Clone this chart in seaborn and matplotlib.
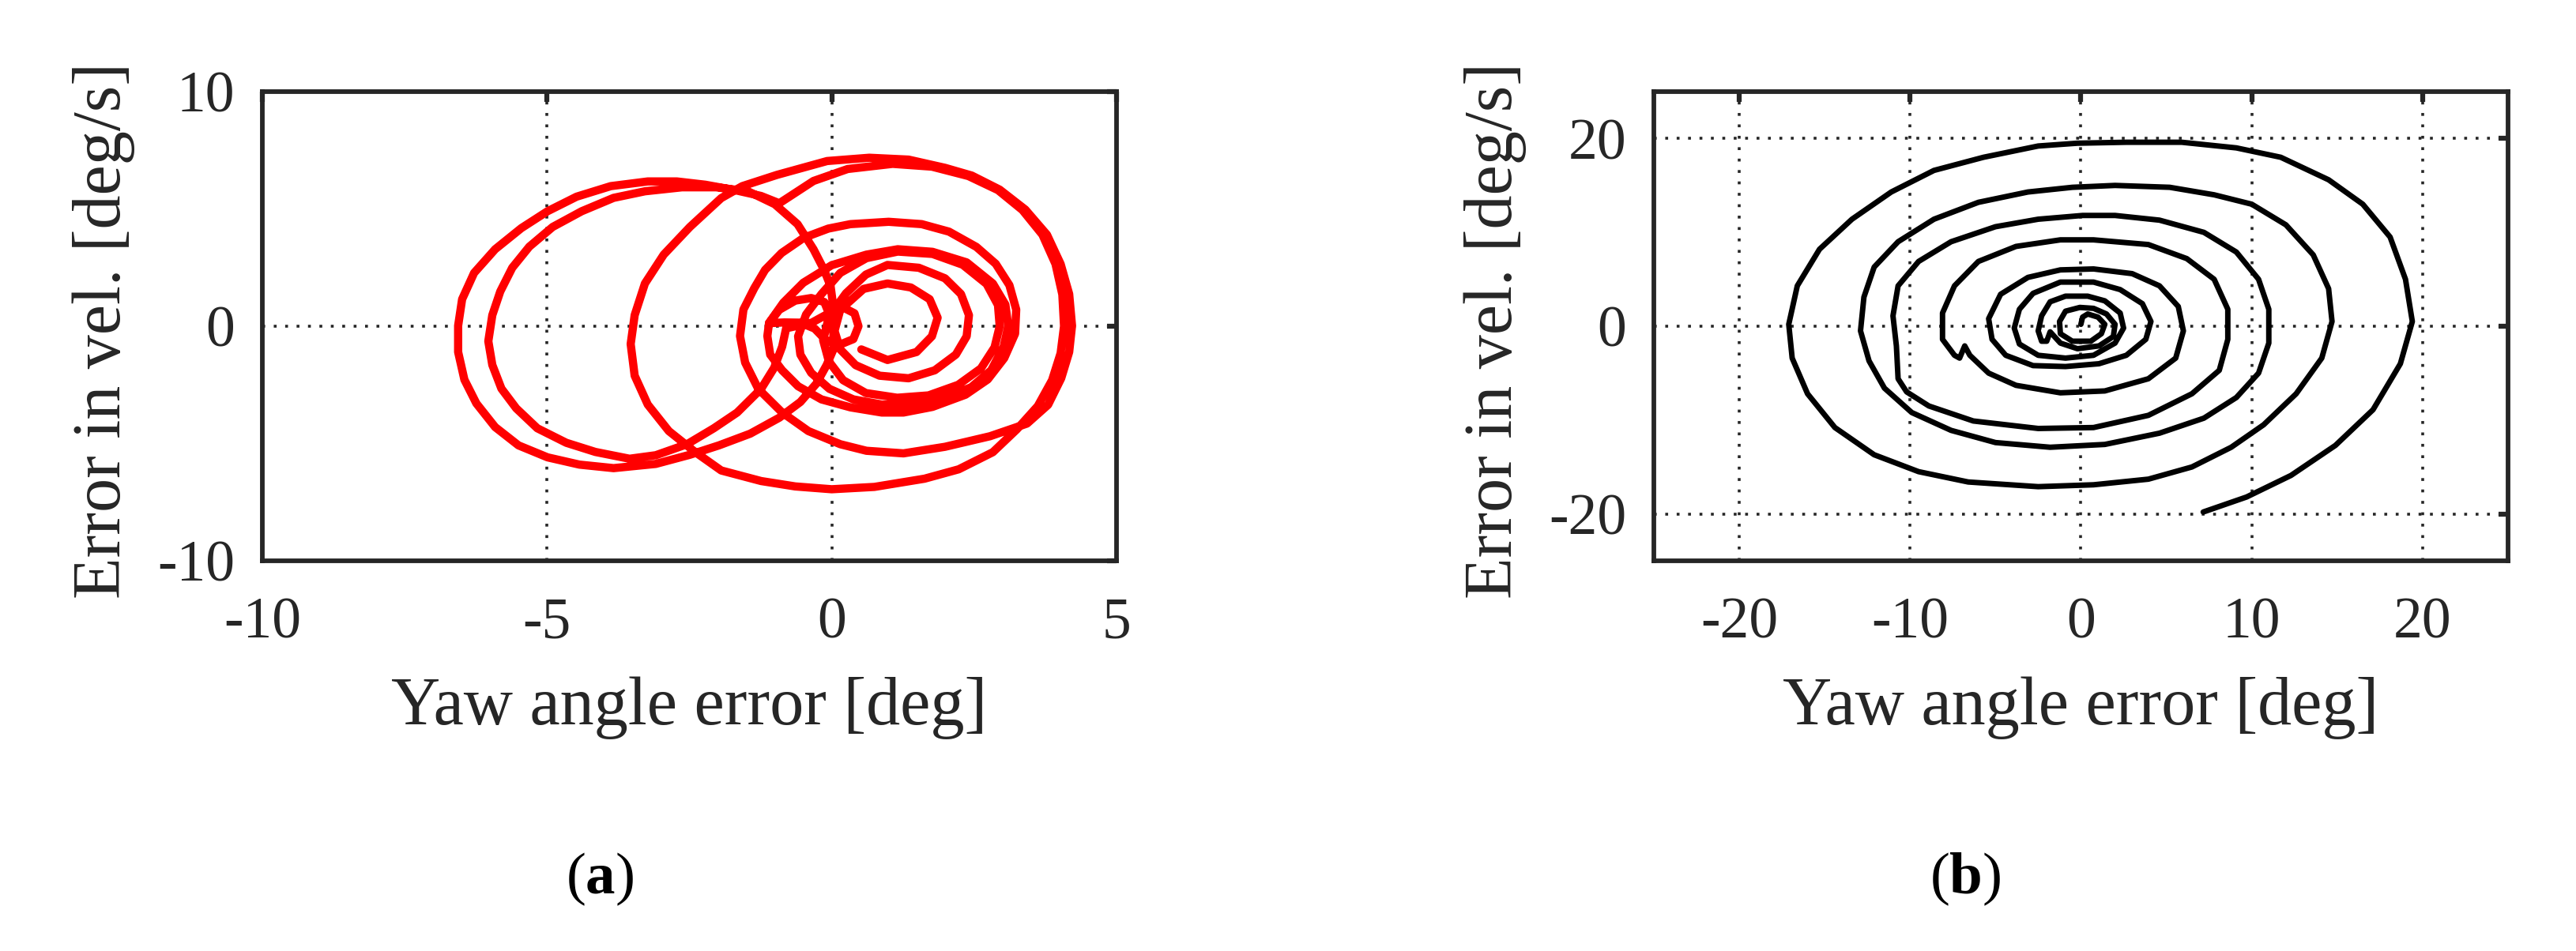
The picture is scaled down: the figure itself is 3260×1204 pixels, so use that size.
import matplotlib
matplotlib.use("Agg")
import matplotlib.pyplot as plt
import pandas as pd
import seaborn as sns

# panel (a): yaw angle error vs velocity error in time order
yaw_a = [0.00, 0.05, 0.20, 0.40, 0.47, 0.38, 0.15, -0.10, -0.30, -0.55, -0.83, -1.10,
         -0.92, -0.64, -0.36, -0.13, -0.05, -0.35, -0.80,
         -0.87, -1.01, -1.24, -1.66, -2.07, -2.54, -3.09,
         -3.55, -4.15, -4.66, -5.17, -5.54, -5.80, -5.96, -6.03, -5.96, -5.82, -5.61, -5.31,
         -4.90, -4.39, -3.83, -3.28, -2.63, -2.03, -1.47,
         -1.00, -0.60, -0.32, -0.13, -0.02, 0.03, 0.03, 0.03,
         -0.09, -0.27, -0.55, -0.92, -1.43, -1.98, -2.49, -3.09,
         -3.83, -4.43, -4.99, -5.50, -5.91, -6.24, -6.45, -6.56, -6.56, -6.49, -6.28, -5.91,
         -5.45, -4.99, -4.48, -3.88, -3.23, -2.72, -2.22, -1.70, -1.24,
         -0.92,
         -0.32, 0.28, 1.07, 1.76, 2.40, 2.92, 3.35, 3.70, 3.93, 4.05, 4.08, 4.02, 3.87, 3.62,
         3.25, 2.83, 2.23, 1.63, 0.75, 0.00, -0.64, -1.24, -1.94,
         -2.40, -2.86, -3.23, -3.46, -3.53, -3.46, -3.28, -2.95, -2.49, -1.94, -1.57, -0.96,
         -0.08, 0.66, 1.35, 1.99, 2.46, 2.95, 3.40, 3.78, 4.02, 4.17, 4.22, 4.17, 4.03, 3.80, 3.43,
         2.78, 1.99, 1.26, 0.61, 0.15, -0.41, -0.87, -1.29, -1.52, -1.61, -1.55, -1.36, -1.17,
         -0.88, -0.49, -0.06, 0.33, 1.00, 1.58, 2.06, 2.54, 2.88, 3.12, 3.24, 3.22, 3.03, 2.74,
         2.35, 1.77, 1.26, 0.88, 0.33, -0.18, -0.59, -0.87, -1.08, -1.13, -1.10,
         -0.85, -0.50, 0.00, 0.61,
         1.16, 1.77, 2.37, 2.83, 3.05, 3.10, 3.02, 2.80, 2.45, 1.95, 1.30, 0.88, 0.38, -0.04,
         -0.36, -0.55, -0.59, -0.45, -0.18, 0.15, 0.61,
         1.16, 1.77, 2.30, 2.72, 2.92, 2.95, 2.86, 2.62, 2.22, 1.70, 1.15, 0.60, 0.20, -0.05,
         -0.15, -0.05, 0.25, 0.60,
         0.98, 1.53, 1.99, 2.27, 2.41, 2.37, 2.18, 1.81, 1.35, 0.84, 0.42, 0.15, 0.05, 0.15,
         0.56, 0.98, 1.39, 1.72, 1.86, 1.76, 1.49, 0.98, 0.52]
vel_a = [0.00, 0.55, 0.80, 0.55, 0.00, -0.55, -0.78, -0.60, -0.10, 0.15, 0.16, 0.13,
         0.70, 1.09, 1.20, 1.03, 0.55, 0.15, -0.09,
         -0.87, -1.77, -2.67, -3.68, -4.35, -5.03, -5.50,
         -5.65, -5.36, -4.97, -4.35, -3.50, -2.66, -1.65, -0.64, 0.47, 1.48, 2.49, 3.39,
         4.23, 4.90, 5.47, 5.75, 5.92, 5.92, 5.75,
         5.20, 4.35, 3.28, 2.38, 1.71, 0.80, -0.20, -0.99,
         -1.66, -2.45, -3.23, -3.90, -4.58, -5.08, -5.48, -5.87,
         -6.05, -5.90, -5.59, -5.08, -4.30, -3.29, -2.28, -1.10, 0.02, 1.15, 2.27, 3.28,
         4.18, 4.90, 5.52, 5.97, 6.17, 6.17, 6.03, 5.80, 5.55,
         5.24,
         6.19, 6.70, 6.92, 6.80, 6.40, 5.80, 4.95, 3.90, 2.65, 1.35, 0.00, -1.15, -2.30, -3.40,
         -4.40, -5.37, -6.10, -6.50, -6.85, -6.95, -6.83, -6.60, -6.15,
         -5.36, -4.47, -3.34, -2.11, -0.76, 0.47, 1.82, 3.05, 4.23, 5.46, 5.97, 6.45,
         7.04, 7.18, 7.10, 6.75, 6.42, 5.82, 4.97, 3.90, 2.65, 1.37, 0.02, -1.10, -2.22, -3.35, -4.15,
         -4.69, -5.14, -5.42, -5.31, -5.03, -4.47, -3.68, -2.67, -1.55, -0.42, 0.71, 1.62, 2.40,
         3.12, 3.77, 4.16, 4.35, 4.45, 4.35, 4.03, 3.38, 2.66, 1.75, 0.71, -0.32, -1.36, -2.27,
         -2.92, -3.44, -3.68, -3.68, -3.46, -3.12, -2.56, -1.88, -1.21, -0.42, 0.14,
         1.00, 1.85, 2.60, 3.05,
         3.28, 3.17, 2.72, 1.82, 0.92, 0.00, -0.87, -1.88, -2.60, -3.10, -3.35, -3.34, -3.12, -2.67,
         -1.99, -1.21, -0.43, 0.50, 1.37, 2.27, 2.90,
         3.18, 3.08, 2.62, 1.80, 0.90, 0.00, -0.90, -1.80, -2.50, -2.95, -3.05, -2.85, -2.30, -1.50,
         -0.60, 0.40, 1.40, 2.20,
         2.61, 2.49, 2.04, 1.37, 0.47, -0.43, -1.21, -1.88, -2.22, -2.11, -1.66, -0.99, -0.20, 0.70,
         1.59, 1.82, 1.65, 1.15, 0.36, -0.43, -1.10, -1.44, -0.99]

# panel (b): inward spiral, starting bottom right
yaw_b = [7.16, 9.7, 12.3, 14.9, 17.1, 18.7, 19.4, 19.0, 18.1, 16.5, 14.5, 11.7, 9.1, 5.9,
         2.66, -0.2, -2.5, -5.7, -8.6, -11.1, -13.4, -15.3, -16.6, -17.1, -16.9, -16.0,
         -14.4, -12.1, -9.5, -6.6, -2.5, 0.74, 3.95, 6.5, 8.8, 10.7, 12.6, 14.1, 14.7, 14.5,
         13.6, 12.0, 10.0, 7.8, 5.2, 2.0, -0.5, -3.1, -6.0, -8.6, -10.7, -12.1, -12.7, -12.9,
         -12.4, -11.5, -9.9, -7.6, -5.0, -1.8, 1.4, 4.6, 7.2, 9.1, 10.4, 11.0, 11.0, 10.4,
         9.1, 7.2, 4.6, 2.0, 0.1, -2.5, -5.0, -7.6, -9.5, -10.7, -11.0, -10.8, -10.7, -10.2,
         -8.9, -6.3, -2.5, 0.74, 3.95, 6.5, 8.1, 8.6, 8.6, 7.8, 6.2, 3.95, 0.74, -1.2, -3.8,
         -6.0, -7.4, -8.1, -8.1, -7.4, -7.1, -6.8, -6.5, -5.4, -3.8, -1.2, 1.4, 3.95, 5.55,
         6.0, 5.7, 4.6, 3.0, 0.74, -1.2, -3.1, -4.7, -5.4, -5.2, -4.4, -2.8, -0.9, 1.06,
         2.66, 3.8, 4.1, 3.6, 2.3, 0.74, -1.2, -2.8, -3.6, -3.9, -3.6, -2.5, -0.9, 0.74, 2.0,
         2.5, 2.3, 1.4, 0.4, -0.9, -1.8, -2.3, -2.5, -2.3, -2.0, -1.8, -1.5, -1.2, -0.2, 1.06,
         1.9, 2.0, 1.5, 0.74, -0.06, -0.9, -1.25, -1.2, -0.5, 0.58, 1.2, 1.4, 1.0, 0.4, 0.1, 0.0]
vel_b = [-19.8, -18.2, -15.9, -12.7, -8.9, -4.0, 0.5, 5.0, 9.5, 13.0, 15.6, 18.0, 19.0, 19.6,
         19.6, 19.5, 19.2, 18.0, 16.6, 14.3, 11.4, 8.2, 4.3, 0.2, -3.4, -7.2,
         -10.8, -13.7, -15.5, -16.6, -17.1, -16.9, -16.3, -15.0, -12.9, -10.5, -7.2, -3.4, 0.5, 4.0,
         7.6, 10.8, 13.0, 14.0, 14.8, 15.0, 14.8, 14.3, 13.2, 11.4, 9.0, 6.3, 3.1, -0.5,
         -3.7, -6.6, -9.2, -11.1, -12.4, -12.9, -12.6, -11.4, -9.8, -7.6, -5.0, -1.8, 1.8, 5.0,
         7.9, 10.0, 11.3, 11.8, 11.8, 11.4, 10.6, 9.0, 6.9, 4.3, 1.1, -2.1, -5.6, -7.0,
         -8.5, -10.1, -10.9, -10.8, -9.5, -7.2, -4.7, -1.4, 1.8, 5.0, 7.2, 8.7, 9.2, 9.2, 8.5,
         6.9, 4.3, 1.4, -1.4, -3.1, -3.4, -2.1, -3.1, -5.0, -6.3, -7.1, -6.9, -5.6, -3.4,
         -0.5, 2.1, 4.3, 5.6, 6.1, 6.0, 5.2, 3.4, 0.8, -1.4, -3.1, -4.2, -4.3, -4.0,
         -3.1, -1.4, 0.5, 2.4, 3.9, 4.7, 4.7, 3.5, 1.8, -0.2, -1.9, -3.1, -3.4, -3.1, -1.8,
         -0.2, 1.4, 2.7, 3.2, 3.2, 2.6, 1.1, -0.5, -1.6, -1.6, -0.6, -1.2, -1.8, -2.4, -2.1,
         -1.1, 0.2, 1.3, 1.9, 2.0, 1.6, 0.5, -0.8, -1.6, -1.6, -0.8, 0.2, 0.97, 1.3, 0.97, 0.2]

x_label = "Yaw angle error [deg]"
y_label = "Error in vel. [deg/s]"

sns.set_style("white")
plt.rcParams["font.family"] = ["Liberation Serif", "DejaVu Serif"]
plt.rcParams["mathtext.fontset"] = "custom"
plt.rcParams["mathtext.rm"] = "Liberation Serif"
plt.rcParams["mathtext.bf"] = "Liberation Serif:bold"
plt.rcParams["axes.unicode_minus"] = False

dark = "#262626"


def style_axes(ax, lim, ticks_x, ticks_y, ylim):
    ax.set_xlim(lim)
    ax.set_ylim(ylim)
    ax.set_xticks(ticks_x)
    ax.set_yticks(ticks_y)
    ax.grid(True, color=dark, linestyle=(0, (1, 3)), linewidth=2.6)
    for sp in ax.spines.values():
        sp.set_linewidth(4.2)
        sp.set_color(dark)
        sp.set_visible(True)
    ax.tick_params(direction="in", length=9, width=4.5, top=True, right=True,
                   colors=dark, labelsize=53)
    ax.tick_params(axis="x", pad=33)
    ax.tick_params(axis="y", pad=25)
    ax.set_xlabel(x_label, fontsize=62, color=dark, va="center")
    ax.set_ylabel(y_label, fontsize=62, color=dark, va="center")
    ax.xaxis.set_label_coords(0.5, -0.313)
    ax.yaxis.set_label_coords(-0.186, 0.491)


fig = plt.figure(figsize=(32.6, 12.04), dpi=100)
ax_a = fig.add_axes([0.1018, 0.4103, 0.3316, 0.4934])
ax_b = fig.add_axes([0.6420, 0.4103, 0.3316, 0.4934])

df_a = pd.DataFrame({"yaw": yaw_a, "vel": vel_a})
df_b = pd.DataFrame({"yaw": yaw_b, "vel": vel_b})

sns.lineplot(data=df_a, x="yaw", y="vel", sort=False, estimator=None,
             color="red", linewidth=7.5, ax=ax_a)
sns.lineplot(data=df_b, x="yaw", y="vel", sort=False, estimator=None,
             color="black", linewidth=5, ax=ax_b)

style_axes(ax_a, (-10, 5), [-10, -5, 0, 5], [-10, 0, 10], (-10, 10))
style_axes(ax_b, (-25, 25), [-20, -10, 0, 10, 20], [-20, 0, 20], (-25, 25))

fig.text(0.233, 0.0756, r"($\mathbf{a}$)", fontsize=54, color="black", ha="center", va="center")
fig.text(0.763, 0.0756, r"($\mathbf{b}$)", fontsize=54, color="black", ha="center", va="center")

fig.savefig("out.png", dpi=100)
